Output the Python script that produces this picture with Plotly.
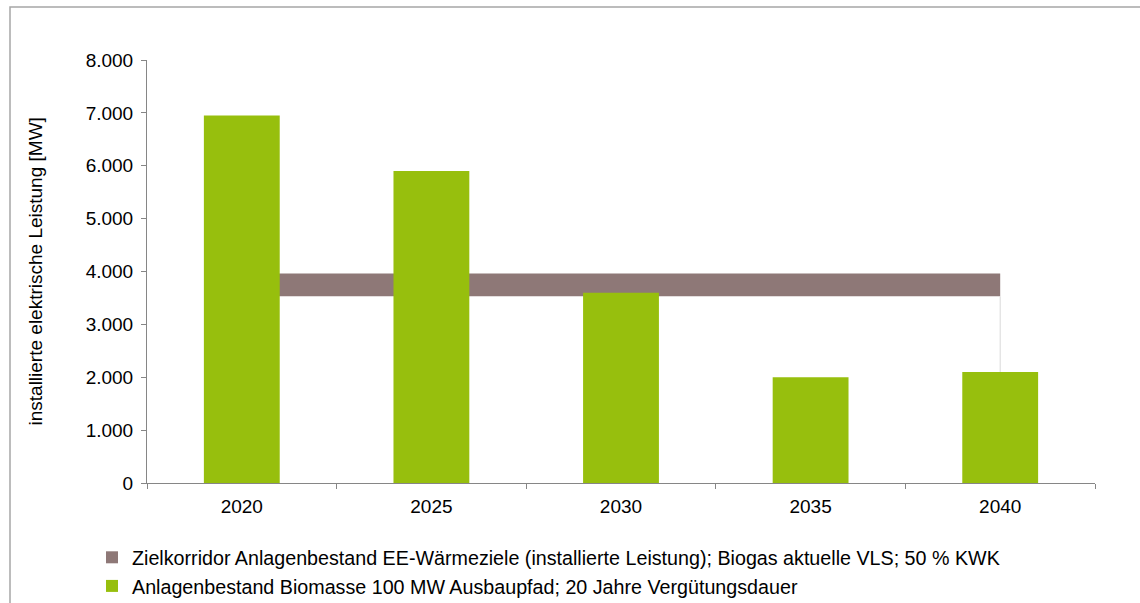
import plotly.graph_objects as go

# Installed electrical capacity of the biomass plant fleet (MW)
years = ["2020", "2025", "2030", "2035", "2040"]
biomasse_mw = [6950, 5900, 3600, 2000, 2100]

# Target corridor from the renewable heat goals (lower / upper bound, MW)
korridor_unten = [3530, 3530, 3530, 3530, 3530]
korridor_oben = [3960, 3960, 3960, 3960, 3960]

name_korridor = ("Zielkorridor Anlagenbestand EE-Wärmeziele (installierte Leistung); "
                 "Biogas aktuelle VLS; 50 % KWK")
name_biomasse = "Anlagenbestand Biomasse 100 MW Ausbaupfad; 20 Jahre Vergütungsdauer"
y_title = "installierte elektrische Leistung [MW]"

GREEN = "#97BF0D"
BROWN = "#8E7877"
AXIS = "#868686"
FONT = "Liberation Sans"
FS = 19

W, H = 1140, 603
L, R, T, B = 147, 45, 60, 120
pw, ph = W - L - R, H - T - B

fig = go.Figure()

# corridor band: invisible lower bound, filled up to the upper bound
fig.add_trace(go.Scatter(
    x=years, y=korridor_unten, mode="lines", line=dict(width=0),
    showlegend=False, hoverinfo="skip"))
fig.add_trace(go.Scatter(
    x=years, y=korridor_oben, mode="lines", line=dict(width=0),
    fill="tonexty", fillcolor=BROWN, name=name_korridor,
    showlegend=False, hoverinfo="skip"))
# right edge of the lower corridor series
fig.add_trace(go.Scatter(
    x=[years[-1], years[-1]], y=[0, korridor_unten[-1]], mode="lines",
    line=dict(color="#D9D9D9", width=1), showlegend=False, hoverinfo="skip"))
# square legend key for the corridor
fig.add_trace(go.Bar(
    x=[None], y=[None], marker=dict(color=BROWN, line=dict(width=0)),
    name=name_korridor, hoverinfo="skip"))

# bars on an overlaid axis so they sit in front of the band
fig.add_trace(go.Bar(
    x=years, y=biomasse_mw, marker=dict(color=GREEN, line=dict(width=0)),
    name=name_biomasse, yaxis="y2"))

fig.update_layout(
    width=W, height=H,
    margin=dict(l=L, r=R, t=T, b=B, autoexpand=False),
    paper_bgcolor="white", plot_bgcolor="white",
    font=dict(family=FONT, size=FS, color="#000000"),
    separators=",.",
    bargap=0.6,
    xaxis=dict(
        type="category", range=[-0.5, 4.5],
        showgrid=False, zeroline=False,
        showline=True, linecolor=AXIS, linewidth=1,
        ticks="outside", ticklen=5, tickcolor=AXIS, tickson="boundaries",
        tickfont=dict(family=FONT, size=FS, color="#000000"),
        ticklabelstandoff=6,
    ),
    yaxis=dict(
        range=[0, 8000], dtick=1000, tickformat=",d",
        showgrid=False, zeroline=False,
        showline=True, linecolor=AXIS, linewidth=1,
        ticks="outside", ticklen=5, tickcolor=AXIS,
        tickfont=dict(family=FONT, size=FS, color="#000000"),
        ticklabelstandoff=4,
    ),
    yaxis2=dict(
        range=[0, 8000], overlaying="y", visible=False,
    ),
    legend=dict(
        orientation="v", traceorder="normal",
        xref="container", yref="container",
        x=92 / W, xanchor="left",
        y=1 - 538 / H, yanchor="top",
        font=dict(family=FONT, size=19.7, color="#000000"),
        bgcolor="rgba(0,0,0,0)",
        itemwidth=30,
        tracegroupgap=0,
    ),
    annotations=[dict(
        text=y_title, xref="paper", yref="paper",
        x=(35 - L) / pw, y=0.5, xanchor="center", yanchor="middle",
        textangle=-90, showarrow=False,
        font=dict(family=FONT, size=FS, color="#000000"),
    )],
    shapes=[dict(
        type="rect", xref="paper", yref="paper",
        x0=(10 - L) / pw, x1=(W + 5 - L) / pw,
        y0=(H - B - (H + 5)) / ph, y1=(H - B - 7) / ph,
        line=dict(color="#A6A6A6", width=1.5), fillcolor="rgba(0,0,0,0)",
        layer="below",
    )],
)

fig.write_html("out.html")
